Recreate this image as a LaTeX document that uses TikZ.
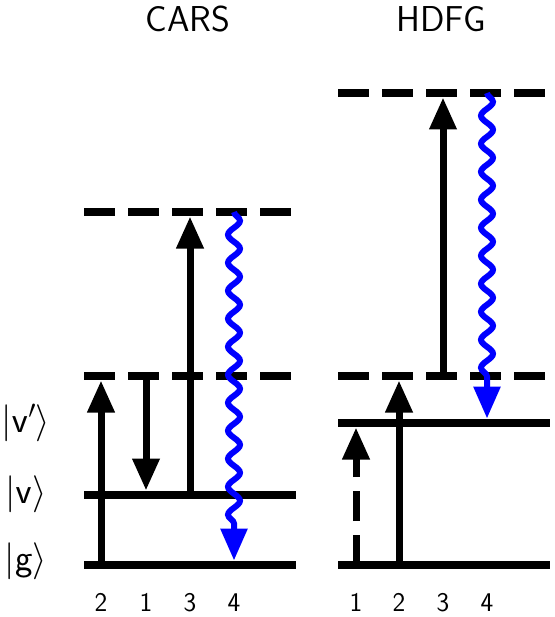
\RequirePackage{fix-cm}
\documentclass[tikz,border=0pt]{standalone}
\usetikzlibrary{arrows.meta,decorations.pathmorphing}
\begin{document}
\begin{tikzpicture}[x=1pt,y=-1pt,
  level/.style={line width=8.5pt},
  vlevel/.style={line width=8.5pt, dash pattern=on 31pt off 13pt},
  tr/.style={line width=7pt, -{Triangle[length=32pt,width=26pt]}},
  trd/.style={tr, dash pattern=on 30pt off 14pt},
  wv/.style={line width=6pt, blue, -{Triangle[length=32pt,width=26pt]}, decorate,
    decoration={snake, amplitude=6pt, segment length=28pt, post length=34pt}},
  ttl/.style={font=\fontsize{36}{40}\selectfont\sffamily, anchor=base, inner sep=0pt},
  num/.style={font=\fontsize{27}{30}\selectfont\sffamily, anchor=base, inner sep=0pt},
  ket/.style={font=\fontsize{37}{40}\selectfont, inner sep=0pt}
]
\useasboundingbox (0,0) rectangle (554,617);
% titles
\node[ttl] (tcars) at (188,32) {CARS};
\node[ttl] (thdfg) at (441,32) {HDFG};
% kets
\node[ket] (kvp) at (26,423) {$|\mathsf{v}'\rangle$};
\node[ket] (kv) at (26,494) {$|\mathsf{v}\rangle$};
\node[ket] (kg) at (26,561) {$|\mathsf{g}\rangle$};
% CARS levels
\coordinate (cg1) at (84,565); \coordinate (cg2) at (296,565);
\coordinate (cv1) at (84,495); \coordinate (cv2) at (296,495);
\coordinate (cx1) at (84,376); \coordinate (cx2) at (293,376);
\coordinate (cy1) at (84,212); \coordinate (cy2) at (293,212);
\draw[level] (cg1) -- (cg2);
\draw[level] (cv1) -- (cv2);
\draw[vlevel] (cx1) -- (cx2);
\draw[vlevel] (cy1) -- (cy2);
% HDFG levels
\coordinate (hg1) at (338,565); \coordinate (hg2) at (550,565);
\coordinate (hi1) at (338,423); \coordinate (hi2) at (550,423);
\coordinate (hx1) at (338,376); \coordinate (hx2) at (547,376);
\coordinate (hy1) at (338,93);  \coordinate (hy2) at (547,93);
\draw[level] (hg1) -- (hg2);
\draw[level] (hi1) -- (hi2);
\draw[vlevel] (hx1) -- (hx2);
\draw[vlevel] (hy1) -- (hy2);
% CARS transitions
\coordinate (a2s) at (101,565); \coordinate (a2e) at (101,380.5);
\coordinate (a1s) at (146,376); \coordinate (a1e) at (146,490.5);
\coordinate (a3s) at (190,495); \coordinate (a3e) at (190,216.5);
\coordinate (a4s) at (234,212); \coordinate (a4e) at (234,560.5);
\draw[tr] (a2s) -- (a2e);
\draw[tr] (a1s) -- (a1e);
\draw[tr] (a3s) -- (a3e);
% HDFG transitions
\coordinate (b1s) at (356,565); \coordinate (b1e) at (356,427.5);
\coordinate (b2s) at (399,565); \coordinate (b2e) at (399,380.5);
\coordinate (b3s) at (443,376); \coordinate (b3e) at (443,97.5);
\coordinate (b4s) at (487,93);  \coordinate (b4e) at (487,418.5);
\draw[trd] (b1s) -- (b1e);
\draw[tr] (b2s) -- (b2e);
\draw[tr] (b3s) -- (b3e);
% emission (wavy)
\draw[wv] (a4s) -- (a4e);
\draw[wv] (b4s) -- (b4e);
% numbers
\node[num] (n2) at (101,611) {2};
\node[num] (n1) at (146,611) {1};
\node[num] (n3) at (190,611) {3};
\node[num] (n4) at (234,611) {4};
\node[num] (m1) at (356,611) {1};
\node[num] (m2) at (399,611) {2};
\node[num] (m3) at (443,611) {3};
\node[num] (m4) at (487,611) {4};
\end{tikzpicture}
\end{document}
